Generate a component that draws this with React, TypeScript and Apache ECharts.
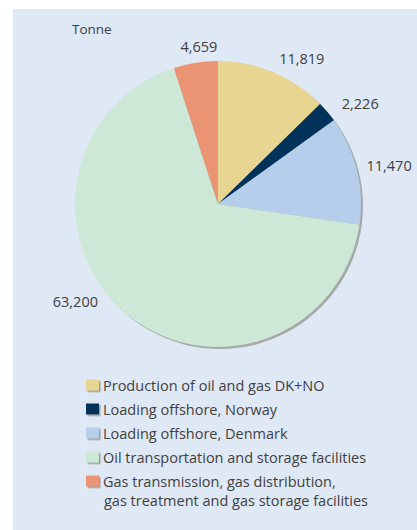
import React, { useEffect, useRef } from "react";
import * as echarts from "echarts";

const categories = [
  "Production of oil and gas DK+NO",
  "Loading offshore, Norway",
  "Loading offshore, Denmark",
  "Oil transportation and storage facilities",
  "Gas transmission, gas distribution, gas treatment and gas storage facilities",
];
const values = [11819, 2226, 11470, 63200, 4659];
const colors = ["#e9d592", "#00325a", "#b5ceeb", "#cde8d6", "#ea9474"];
const legendFirstLines = [
  "Production of oil and gas DK+NO",
  "Loading offshore, Norway",
  "Loading offshore, Denmark",
  "Oil transportation and storage facilities",
  "Gas transmission, gas distribution,",
];
const legendSecondLine = "gas treatment and gas storage facilities";
const unitLabel = "Tonne";

// label nudges (style only)
const labelNudges: [number, number][] = [
  [0, 0],
  [3, 1],
  [-5, -1],
  [-18, -23],
  [24, -1],
];

const FONT = "'Open Sans', sans-serif";
const TEXT = "#3f3f3f";

export default function App() {
  const ref = useRef<HTMLDivElement>(null);
  useEffect(() => {
    if (!ref.current) return;
    const chart = echarts.init(ref.current, undefined, { renderer: "svg" });
    const total = values.reduce((a, b) => a + b, 0);
    chart.setOption({
      animation: false,
      backgroundColor: "#ffffff",
      textStyle: { fontFamily: FONT },
      graphic: [
        {
          type: "rect",
          z: -10,
          shape: { x: 13, y: 9, width: 404, height: 521 },
          style: { fill: "#dfe8f5" },
        },
        {
          type: "text",
          x: 72,
          y: 29,
          style: {
            text: unitLabel,
            fill: TEXT,
            font: `13.5px ${FONT}`,
            verticalAlign: "middle",
          },
        },
        {
          type: "text",
          x: 104,
          y: 500,
          z: 10,
          style: {
            text: legendSecondLine,
            fill: TEXT,
            font: `14.5px ${FONT}`,
            verticalAlign: "middle",
          },
        },
      ],
      legend: {
        orient: "vertical",
        left: 86,
        top: 377,
        padding: 0,
        itemWidth: 13,
        itemHeight: 11,
        itemGap: 8,
        icon: "rect",
        data: categories,
        formatter: (name: string) => legendFirstLines[categories.indexOf(name)],
        textStyle: {
          color: TEXT,
          fontSize: 14.5,
          lineHeight: 16,
          fontFamily: FONT,
          padding: [0, 0, 0, -1],
        },
        itemStyle: {
          shadowColor: "#9c9f9c",
          shadowOffsetX: 1.5,
          shadowOffsetY: 1.5,
          shadowBlur: 0,
        },
        selectedMode: false,
      },
      series: [
        {
          type: "pie",
          name: "shadow",
          silent: true,
          center: [220, 206],
          radius: 143,
          label: { show: false },
          labelLine: { show: false },
          data: [{ name: "shadow", value: total }],
          itemStyle: { color: "#a6a9a6" },
          z: 1,
        },
        {
          type: "pie",
          center: [218, 204],
          radius: 143,
          startAngle: 90,
          clockwise: true,
          avoidLabelOverlap: false,
          z: 2,
          data: categories.map((c, i) => ({
            name: c,
            value: values[i],
            itemStyle: { color: colors[i] },
          })),
          itemStyle: { borderWidth: 0 },
          label: {
            show: true,
            position: "outside",
            formatter: (p: any) => p.value.toLocaleString("en-US"),
            color: TEXT,
            fontSize: 14.5,
            fontFamily: FONT,
            distanceToLabelLine: 0,
          },
          labelLine: { show: false, length: 15, length2: 0 },
          labelLayout: (p: any) => ({
            dx: labelNudges[p.dataIndex][0],
            dy: labelNudges[p.dataIndex][1],
          }),
          emphasis: { disabled: true },
        },
      ],
    });
    return () => chart.dispose();
  }, []);
  return (
    <div
      ref={ref}
      style={{ position: "absolute", left: 0, top: 0, width: 417, height: 530 }}
    />
  );
}
